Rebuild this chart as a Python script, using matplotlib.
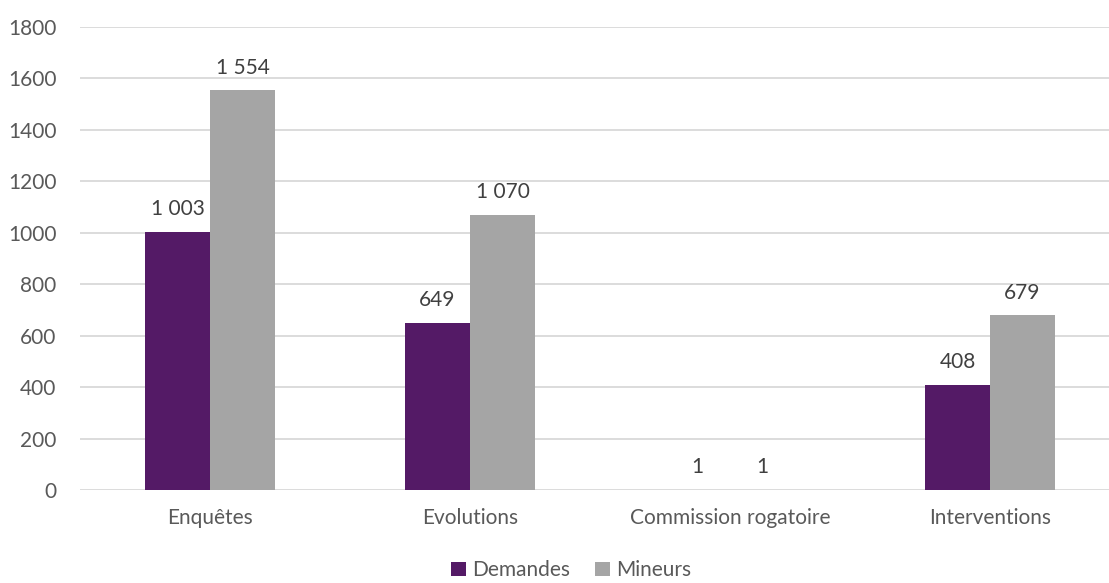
import matplotlib
matplotlib.use("Agg")
import matplotlib.pyplot as plt
from matplotlib.patches import Patch
import numpy as np

categories = ["Enquêtes", "Evolutions", "Commission rogatoire", "Interventions"]
demandes = [1003, 649, 1, 408]
mineurs = [1554, 1070, 1, 679]
series_names = ["Demandes", "Mineurs"]
y_ticks = [0, 200, 400, 600, 800, 1000, 1200, 1400, 1600, 1800]

PURPLE = "#541A66"
GREY = "#A5A5A5"
GRID = "#D9D9D9"
TEXT = "#595959"
LABEL = "#404040"

plt.rcParams["font.family"] = ["Lato", "DejaVu Sans"]

fig = plt.figure(figsize=(11.09, 5.83), dpi=100)
ax = fig.add_axes([80 / 1109, 93 / 583, 1040 / 1109, 463 / 583])

x = np.arange(len(categories))
w = 0.25
b1 = ax.bar(x - w / 2, demandes, width=w, color=PURPLE, zorder=3)
b2 = ax.bar(x + w / 2, mineurs, width=w, color=GREY, zorder=3)

def fmt(v):
    return f"{v:,}".replace(",", " ")

for bars, vals in ((b1, demandes), (b2, mineurs)):
    for rect, v in zip(bars, vals):
        ax.annotate(fmt(v), (rect.get_x() + rect.get_width() / 2, v),
                    xytext=(0, 12), textcoords="offset points",
                    ha="center", va="baseline", fontsize=15, color=LABEL)

ax.set_xlim(-0.5, len(categories) - 0.5)
ax.set_ylim(0, 1800)
ax.set_yticks(y_ticks)
ax.set_yticklabels([str(t) for t in y_ticks])
ax.set_xticks(x)
ax.set_xticklabels(categories)
ax.tick_params(axis="both", length=0, labelsize=15, colors=TEXT)
ax.tick_params(axis="y", pad=17)
ax.tick_params(axis="x", pad=13)
ax.grid(axis="y", color=GRID, linewidth=1.3, zorder=0)
for s in ax.spines.values():
    s.set_visible(False)

handles = [Patch(facecolor=PURPLE), Patch(facecolor=GREY)]
fig.legend(handles, series_names, loc="center", bbox_to_anchor=(0.515, 0.022),
           ncol=2, frameon=False, fontsize=15, handlelength=0.7, handleheight=0.7,
           handletextpad=0.3, columnspacing=1.2, labelcolor=TEXT,
           borderpad=0.1)

fig.savefig("out.png", dpi=100)
